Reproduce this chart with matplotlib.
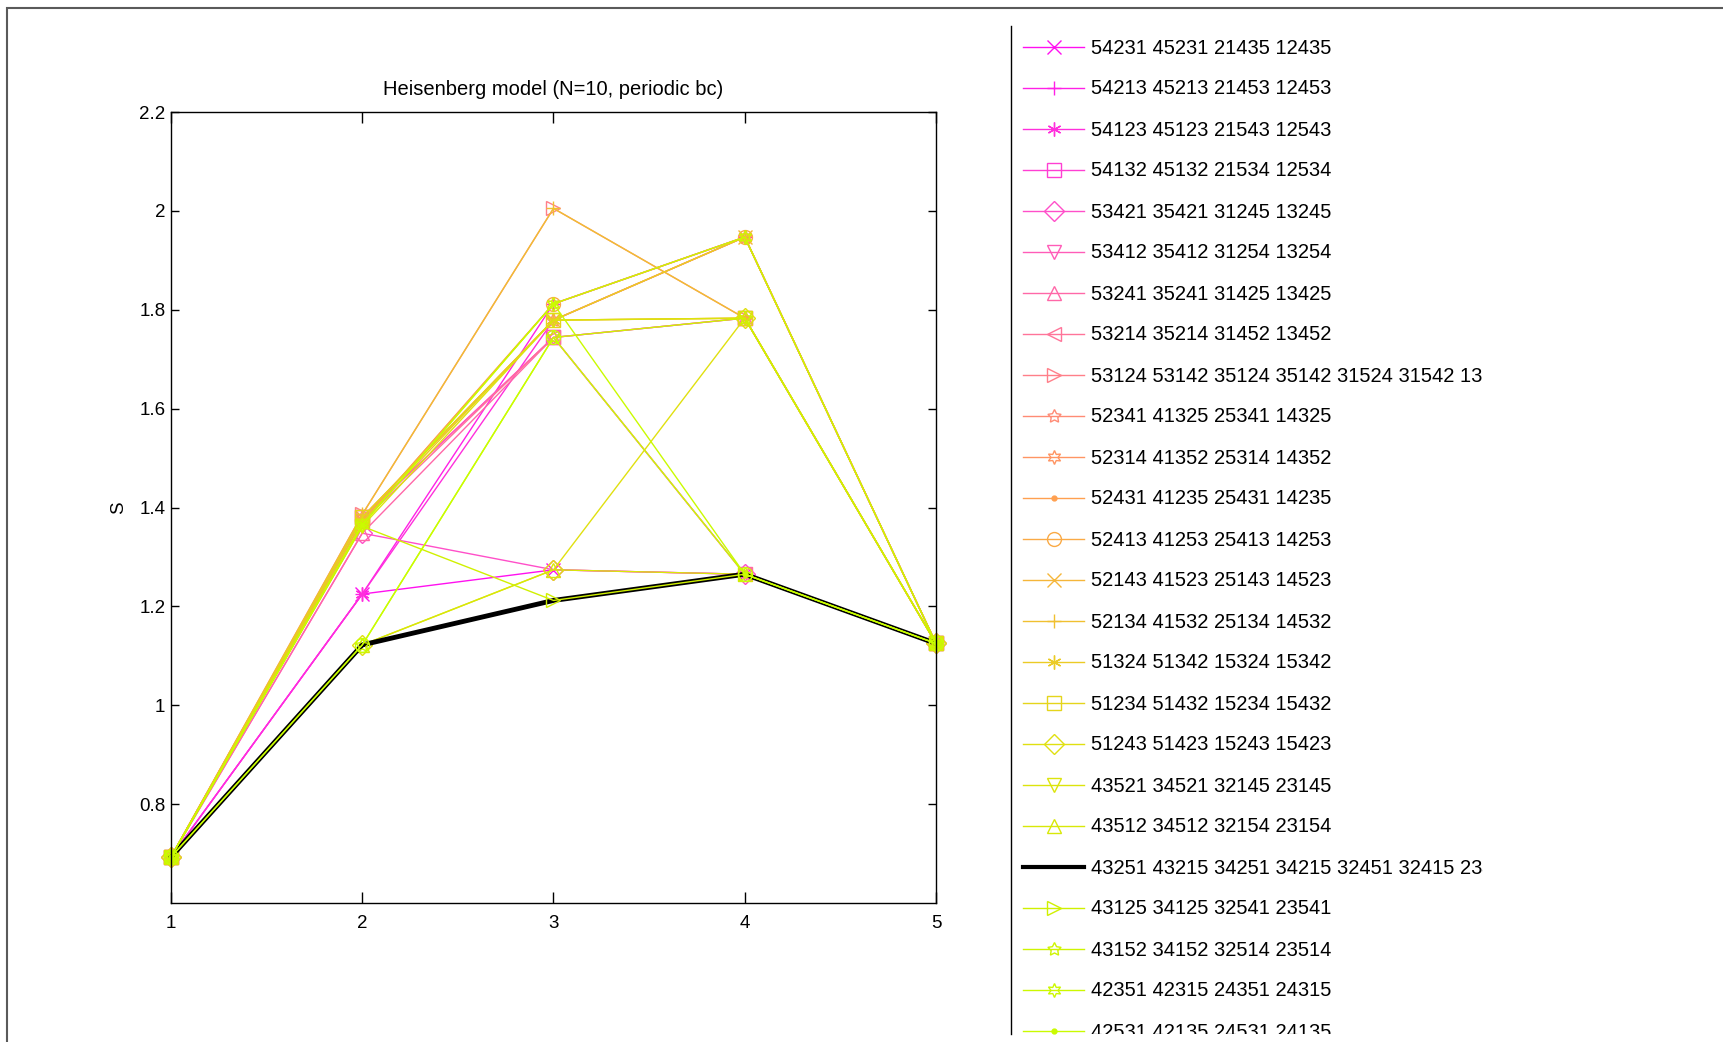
import numpy as np
from matplotlib import pyplot as plt
from matplotlib import ticker
from matplotlib.colors import LinearSegmentedColormap
from matplotlib.patches import Rectangle

plt.rcParams['font.family'] = ['Liberation Sans', 'DejaVu Sans']

# subsystem size
x = [1, 2, 3, 4, 5]

labels = [
    '54231 45231 21435 12435',
    '54213 45213 21453 12453',
    '54123 45123 21543 12543',
    '54132 45132 21534 12534',
    '53421 35421 31245 13245',
    '53412 35412 31254 13254',
    '53241 35241 31425 13425',
    '53214 35214 31452 13452',
    '53124 53142 35124 35142 31524 31542 13524 13542',
    '52341 41325 25341 14325',
    '52314 41352 25314 14352',
    '52431 41235 25431 14235',
    '52413 41253 25413 14253',
    '52143 41523 25143 14523',
    '52134 41532 25134 14532',
    '51324 51342 15324 15342',
    '51234 51432 15234 15432',
    '51243 51423 15243 15423',
    '43521 34521 32145 23145',
    '43512 34512 32154 23154',
    '43251 43215 34251 34215 32451 32415 23451 23415',
    '43125 34125 32541 23541',
    '43152 34152 32514 23514',
    '42351 42315 24351 24315',
    '42531 42135 24531 24135',
    '42513 42153 24513 24153',
]

# entropy S for each ordering, at x = 1..5
S = [
    [0.693, 1.225, 1.274, 1.265, 1.125],
    [0.693, 1.225, 1.812, 1.947, 1.125],
    [0.693, 1.225, 1.779, 1.947, 1.125],
    [0.693, 1.380, 1.744, 1.783, 1.125],
    [0.693, 1.348, 1.274, 1.265, 1.125],
    [0.693, 1.380, 1.744, 1.265, 1.125],
    [0.693, 1.348, 1.744, 1.783, 1.125],
    [0.693, 1.372, 1.744, 1.265, 1.125],
    [0.693, 1.386, 2.005, 1.783, 1.125],
    [0.693, 1.380, 1.779, 1.947, 1.125],
    [0.693, 1.372, 1.812, 1.947, 1.125],
    [0.693, 1.380, 1.779, 1.783, 1.125],
    [0.693, 1.372, 1.812, 1.947, 1.125],
    [0.693, 1.380, 1.779, 1.947, 1.125],
    [0.693, 1.386, 2.005, 1.783, 1.125],
    [0.693, 1.372, 1.779, 1.947, 1.125],
    [0.693, 1.380, 1.779, 1.783, 1.125],
    [0.693, 1.122, 1.274, 1.783, 1.125],
    [0.693, 1.362, 1.779, 1.783, 1.125],
    [0.693, 1.122, 1.274, 1.265, 1.125],
    [0.693, 1.122, 1.212, 1.265, 1.125],
    [0.693, 1.362, 1.212, 1.265, 1.125],
    [0.693, 1.122, 1.744, 1.783, 1.125],
    [0.693, 1.365, 1.812, 1.947, 1.125],
    [0.693, 1.365, 1.812, 1.265, 1.125],
    [0.693, 1.122, 1.744, 1.265, 1.125],
]
destaque = 20  # ground-state ordering, drawn as thick black line

marcadores = ['x', '+', (6, 2, 0), 's', 'D', 'v', '^', '<', '>', (5, 1, 0), (6, 1, 0), '.', 'o']
cmap = LinearSegmentedColormap.from_list('mola', [
    (0.0, '#ff10f0'), (0.16, '#ff50c8'), (0.32, '#ff8088'), (0.44, '#ffa050'),
    (0.56, '#f0c030'), (0.68, '#e0e010'), (0.84, '#d0f000'), (1.0, '#c8ff00')])
cores = [cmap(i / (len(S) - 1)) for i in range(len(S))]


def estilo(i):
    if i == destaque:
        return dict(color='k', lw=3.5, marker='none')
    m = marcadores[i % len(marcadores)]
    return dict(color=cores[i], lw=1.0, marker=m, ms=10 if m != '.' else 7,
                mfc='none' if m != '.' else cores[i], mew=1.0)


W, H = 1724, 1042
fig = plt.figure(figsize=(W / 100, H / 100), dpi=100)

# grey frame around the figure
fig.patches.append(Rectangle((7.5 / W, -0.05), 2, 1 - 7.5 / H + 0.05, transform=fig.transFigure,
                             fill=False, ec='#5a5a5a', lw=1.5))

ax = fig.add_axes([171 / W, 1 - 903 / H, 765 / W, 791 / H])
for i, s in enumerate(S):
    ax.plot(x, s, clip_on=False, **estilo(i))

ax.set_xlim(1, 5)
ax.set_ylim(0.6, 2.2)
ax.set_xticks(x)
ax.set_yticks(np.arange(0.8, 2.21, 0.2))
ax.yaxis.set_major_formatter(ticker.FormatStrFormatter('%g'))
ax.tick_params(direction='in', top=True, right=True, labelsize=13.5, width=1)
ax.tick_params(axis='x', pad=9, length=8)
ax.tick_params(axis='y', pad=4, length=6)
for sp in ax.spines.values():
    sp.set_linewidth(1.0)
ax.set_title('Heisenberg model (N=10, periodic bc)', fontsize=14.5, pad=12)
ax.set_ylabel('S', fontsize=13.5)
ax.yaxis.set_label_coords(-0.058, 0.5)

# legend box (clipped, only its left edge shows)
lax = fig.add_axes([1011 / W, 1 - 1034 / H, 472 / W, 1008 / H])
lax.set_xlim(0, 472)
lax.set_ylim(1008, 0)
lax.set_xticks([])
lax.set_yticks([])
lax.patch.set_visible(False)
for k in ['top', 'right', 'bottom']:
    lax.spines[k].set_visible(False)
lax.spines['left'].set_linewidth(1.0)

for i, lab in enumerate(labels):
    y = 20.5 + 41 * i
    st = estilo(i)
    if i == destaque:
        st['lw'] = 3.0
    lax.plot([12, 73], [y, y], color=st['color'], lw=st['lw'])
    if st['marker'] != 'none':
        lax.plot([42.5], [y], ls='none', **{k: v for k, v in st.items() if k not in ('lw',)})
    lax.text(80, y + 1.5, lab, va='center', fontsize=14.5, clip_on=True)

fig.savefig('out.png', dpi=100)
